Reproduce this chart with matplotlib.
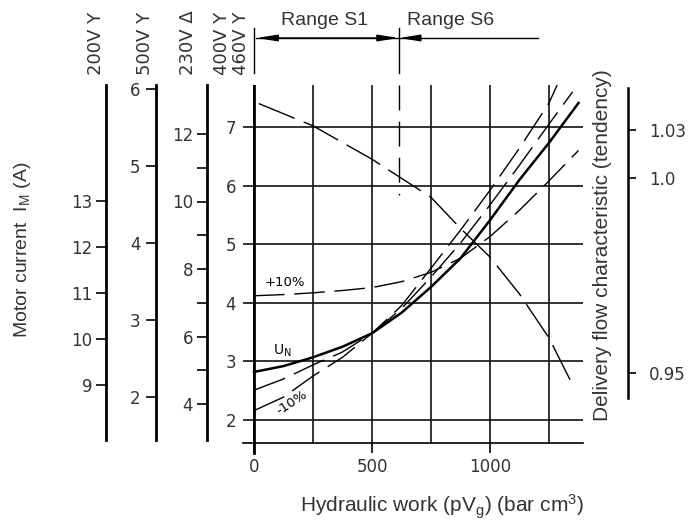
import matplotlib.pyplot as plt

plt.rcParams['font.family'] = 'DejaVu Sans'
plt.rcParams['mathtext.fontset'] = 'custom'
plt.rcParams['mathtext.rm'] = 'Liberation Sans'
plt.rcParams['mathtext.default'] = 'regular'

# data (x = hydraulic work, y = motor current at 400V/460V)
work = [0, 125, 250, 375, 500, 625, 750, 875, 1000, 1125, 1250, 1375]
u_n = [2.82, 2.92, 3.07, 3.25, 3.48, 3.83, 4.27, 4.76, 5.41, 6.10, 6.73, 7.41]
plus10 = [4.12, 4.14, 4.17, 4.21, 4.26, 4.36, 4.52, 4.76, 5.13, 5.58, 6.08, 6.60]
work_a = [0, 125, 250, 375, 500, 625, 750, 875, 1000, 1125, 1250, 1285]
minus10_a = [2.16, 2.39, 2.75, 3.07, 3.48, 3.95, 4.59, 5.24, 5.92, 6.64, 7.41, 7.72]
work_b = [0, 125, 250, 375, 500, 625, 750, 875, 1000, 1125, 1250, 1350]
minus10_b = [2.51, 2.70, 2.94, 3.16, 3.48, 3.90, 4.44, 5.02, 5.67, 6.35, 7.05, 7.60]
flow_work = [20, 250, 500, 750, 875, 1000, 1125, 1250, 1340]
flow = [7.40, 7.02, 6.45, 5.80, 5.27, 4.78, 4.15, 3.40, 2.68]

work_ticks = [0, 500, 1000]
work_grid = [250, 750, 1250]
current_ticks = [2, 3, 4, 5, 6, 7]
range_split = 614
range_end = 1203
s6_line_bottom = 5.84

ticks_200 = [9, 10, 11, 12, 13]
ticks_500 = [2, 3, 4, 5, 6]
ticks_230 = [4, 5, 6, 7, 8, 9, 10, 11, 12]
labels_230 = ['4', '', '6', '', '8', '', '10', '', '12']
flow_tick_pos = [6.95, 6.13, 2.80]   # non linear scale, placed in current units
flow_tick_labels = ['1.03', '1.0', '0.95']
volt_labels = ['200V Y', '500V Y', '230V Δ', '400V Y', '460V Y']

W, H = 697, 526
TOP, BOT = 85, 443
fig = plt.figure(figsize=(W / 100, H / 100), dpi=100)


def fx(px):
    return px / W


def fy(py):
    return 1 - py / H


txt = '#333333'
lab_font = 'Liberation Sans'

# main axes
ax = fig.add_axes([fx(243), fy(BOT), (583 - 243) / W, (BOT - TOP) / H])
ppw = 118 / 500.0
ppa = 58.6
ax.set_xlim((243 - 254) / ppw, (583 - 254) / ppw)
ax.set_ylim(2 - (BOT - 420) / ppa, 2 + (420 - TOP) / ppa)
ax.patch.set_visible(False)
for s in ['top', 'right', 'left']:
    ax.spines[s].set_visible(False)
ax.spines['bottom'].set_linewidth(1.2)
ax.set_xticks(work_ticks)
ax.set_xticks(work_grid, minor=True)
ax.set_yticks(current_ticks)
ax.tick_params(axis='x', which='major', direction='out', length=7, width=1.2,
               pad=4, labelsize=12, labelcolor=txt)
ax.tick_params(axis='x', which='minor', length=0)
ax.tick_params(axis='y', length=0, pad=5, labelsize=12, labelcolor=txt)
ax.grid(True, which='both', color='#111111', lw=1.2)
ax.axvline(0, color='k', lw=2)
ax.plot([0, 0], [ax.get_ylim()[0] - 10 / ppa, ax.get_ylim()[0]], color='k',
        lw=2, clip_on=False)

ax.plot(work, u_n, color='k', lw=1.8)
ax.plot(work, plus10, color='k', lw=1.0, dashes=(22, 7))
ax.plot(work_a, minus10_a, color='k', lw=1.0, dashes=(24, 7))
ax.plot(work_b, minus10_b, color='k', lw=1.0, dashes=(24, 7))
ax.plot(flow_work, flow, color='k', lw=1.0, dashes=(28, 7))
ax.plot([range_split, range_split], [ax.get_ylim()[1], s6_line_bottom],
        color='k', lw=1.0, dashes=(18, 8))

ax.text(131, 4.35, '+10%', fontsize=9.5, ha='center', va='center')
ax.text(119, 3.18, 'U$_N$', fontsize=10, ha='center', va='center',
        family='DejaVu Sans')
ax.text(161, 2.29, '-10%', fontsize=9.5, ha='center', va='center', rotation=33)

# range arrows above the plot
y_arr = 2 + (420 - 38) / ppa
ax.plot([0, 0], [2 + (420 - 28) / ppa, 2 + (420 - 73) / ppa], color='k',
        lw=1.0, clip_on=False)
ax.plot([range_split, range_split], [2 + (420 - 28) / ppa, 2 + (420 - 73) / ppa],
        color='k', lw=1.0, clip_on=False)
arr = dict(arrowstyle='-|>,head_length=1.4,head_width=0.22', color='k', lw=1.0,
           shrinkA=0, shrinkB=0, mutation_scale=9)
ax.plot([10, range_end], [y_arr, y_arr], color='k', lw=1.0, clip_on=False)
ax.annotate('', xy=(10, y_arr), xytext=(range_split - 60, y_arr),
            arrowprops=arr, annotation_clip=False)
ax.annotate('', xy=(range_split, y_arr), xytext=(range_split - 60, y_arr),
            arrowprops=arr, annotation_clip=False)
ax.annotate('', xy=(range_split, y_arr), xytext=(range_split + 60, y_arr),
            arrowprops=arr, annotation_clip=False)
fig.text(fx(325), fy(25), 'Range S1', ha='center', va='baseline', fontsize=14,
         family=lab_font, color=txt)
fig.text(fx(451), fy(25), 'Range S6', ha='center', va='baseline', fontsize=14,
         family=lab_font, color=txt)


# extra current scales on the left
def side_scale(xpx, ref_val, ref_px, ppu, ticks, labels, pad):
    a = fig.add_axes([fx(xpx), fy(BOT), 0.0001, (BOT - TOP) / H])
    a.set_ylim(ref_val - (BOT - ref_px) / ppu, ref_val + (ref_px - TOP) / ppu)
    a.patch.set_visible(False)
    for s in ['top', 'right', 'bottom']:
        a.spines[s].set_visible(False)
    a.spines['left'].set_linewidth(2)
    a.spines['left'].set_bounds(ref_val - (440 - ref_px) / ppu, a.get_ylim()[1])
    a.set_xticks([])
    a.set_yticks(ticks)
    a.set_yticklabels(labels)
    a.tick_params(axis='y', direction='out', length=7, width=1.2, pad=pad,
                  labelsize=12, labelcolor=txt)
    return a


side_scale(106, 9, 385, 46.0, ticks_200, [str(t) for t in ticks_200], 3)
side_scale(156, 2, 397, 77.0, ticks_500, [str(t) for t in ticks_500], 4)
side_scale(207, 4, 404, 33.75, ticks_230, labels_230, 3)

# right scale (delivery flow)
ar = fig.add_axes([fx(628), fy(BOT), 0.0001, (BOT - TOP) / H])
ar.set_ylim(ax.get_ylim())
ar.patch.set_visible(False)
for s in ['top', 'left', 'bottom']:
    ar.spines[s].set_visible(False)
ar.spines['right'].set_linewidth(1.8)
ar.spines['right'].set_bounds(2 + (420 - 398) / ppa, 2 + (420 - 88) / ppa)
ar.set_xticks([])
ar.yaxis.tick_right()
ar.set_yticks(flow_tick_pos)
ar.set_yticklabels(flow_tick_labels)
ar.tick_params(axis='y', direction='out', length=6, width=1.2, pad=9,
               labelsize=12, labelcolor=txt)

# voltage headers
for xp, lab in zip([96, 145, 188, 222, 241], volt_labels):
    fig.text(fx(xp), fy(75), lab, rotation=90, ha='center', va='bottom',
             fontsize=13, color=txt)

fig.text(fx(23), fy(250), 'Motor current  I$_M$ (A)', rotation=90,
         ha='center', va='center', fontsize=14, family=lab_font, color=txt)
fig.text(fx(603), fy(245), 'Delivery flow characteristic (tendency)',
         rotation=90, ha='center', va='center', fontsize=15, family=lab_font,
         color=txt)
fig.text(fx(442), fy(507), 'Hydraulic work (pV$_g$) (bar cm$^3$)',
         ha='center', va='center', fontsize=15, family=lab_font, color=txt)

fig.savefig('out.png', dpi=100)
